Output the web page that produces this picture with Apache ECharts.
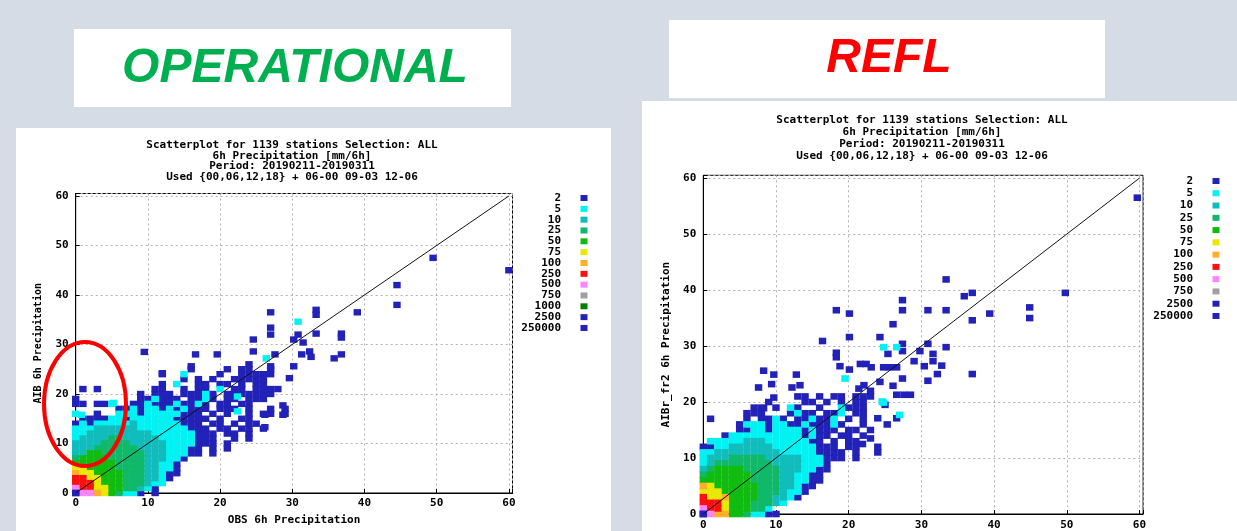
<!DOCTYPE html>
<html><head><meta charset="utf-8">
<script src="https://cdn.jsdelivr.net/npm/echarts@6/dist/echarts.min.js"></script>
<style>html,body{margin:0;padding:0;background:#d6dce5;}#c{width:1237px;height:531px;}</style>
</head><body><div id="c"></div>
<script>
// ---------- texts / labels ----------
const headingLeft = 'OPERATIONAL';
const headingRight = 'REFL';
const titleLines = ['Scatterplot for 1139 stations Selection: ALL','6h Precipitation [mm/6h]','Period: 20190211-20190311','Used {00,06,12,18} + 06-00 09-03 12-06'];
const xNameLeft = 'OBS 6h Precipitation';
const yNameLeft = 'AIB 6h Precipitation';
const yNameRight = 'AIBr_fr2 6h Precipitation';
const axisTicks = [0,10,20,30,40,50,60];
const classLabelsOp = ['2','5','10','25','50','75','100','250','500','750','1000','2500','250000'];
const classLabelsRf = ['2','5','10','25','50','75','100','250','500','750','2500','250000'];
const diagonal = [[0,0],[60,60]];

// ---------- OPERATIONAL data (rows: [y, [x...]]) ----------
const opC2Rows = [[0,[9,11]],[1,[11]],[3,[13]],[4,[13,14]],[5,[14]],[6,[14]],[7,[15]],[8,[16,17,19]],[9,[16,17,19,21]],[10,[17,18,19,21]],[11,[17,18,19,22,24]],[12,[17,18,19,21,22,24]],[13,[16,17,18,20,21,23,24,26]],[14,[0,2,15,16,17,19,20,22,24,25]],[15,[1,2,3,4,7,14,15,16,17,18,20,23,24]],[16,[3,9,15,16,17,19,21,24,26,27,29]],[17,[6,7,9,12,14,16,17,18,20,21,22,24,27,29]],[18,[0,1,3,4,8,9,11,12,13,15,16,18,20,21,23,24]],[19,[0,9,10,12,13,14,16,17,19,21,22,24,25,26]],[20,[9,11,12,13,15,16,17,19,21,22,23,24,25,26,27]],[21,[1,3,11,12,15,17,18,22,23,25,26,27,28]],[22,[12,17,18,20,21,23,25,26]],[23,[15,17,19,22,23,24,25,26]],[24,[12,20,23,24,25,26,27]],[25,[16,21,23,24,27]],[26,[24]]];
const opC2Out = [[60,45],[49.5,47.5],[44.5,42],[44.5,38],[39,36.5],[36.8,32.2],[36.8,31.4],[36.8,28],[35.8,27.2],[33.3,37],[33.3,36],[33.3,32.2],[30.8,32],[30.2,31],[31.5,30.4],[30.2,25.6],[31.3,28],[32.4,28.6],[32.6,27.5],[29.6,23.2],[27,36.5],[27,33.4],[27,32],[24.6,31],[24.6,28.6],[27.6,28],[27,25.6],[19.6,28],[16.6,28],[9.5,28.5],[12,24.2],[16,25.6],[28.7,17.7],[28.7,15.8],[26.2,15.8],[26.2,13.3]];
const opC5Rows = [[0,[7,8]],[1,[10]],[2,[11,12]],[3,[12]],[4,[12]],[5,[12,13]],[6,[12,13]],[7,[13,14]],[8,[13,14,15]],[9,[13,14,15]],[10,[13,14,15,16]],[11,[0,12,13,14,15,16]],[12,[0,1,11,12,13,14,15,16]],[13,[0,1,2,9,10,11,12,13,14,15]],[14,[1,3,4,5,6,7,9,10,11,12,13,14]],[15,[5,6,8,9,10,11,12,13]],[16,[0,6,7,8,10,11,12,13,14]],[17,[8,10,11,13,15]],[18,[5,10,14,17]],[19,[11,18]],[20,[18]],[21,[20]],[22,[14]],[24,[15]]];
const opC5Out = [[30.8,34.6],[26.4,27.2],[0.8,15.8],[5.2,18.2],[22.4,19.5],[22.4,16.5]];
const opC10Rows = [[1,[9]],[2,[10]],[3,[10,11]],[4,[10,11]],[5,[10,11]],[6,[10,11]],[7,[10,11,12]],[8,[0,1,10,11,12]],[9,[0,1,2,9,10,11,12]],[10,[0,1,2,3,8,9,10,11,12]],[11,[1,2,3,4,7,8,9,10,11]],[12,[2,3,4,5,6,7,8,9,10]],[13,[3,4,5,6,7,8]],[14,[8]]];
const opC25Rows = [[0,[6]],[1,[7,8]],[2,[7,8,9]],[3,[7,8,9]],[4,[7,8,9]],[5,[6,7,8,9]],[6,[6,7,8,9]],[7,[0,5,6,7,8,9]],[8,[4,5,6,7,8,9]],[9,[3,4,5,6,7,8]],[10,[4,5,6,7]],[11,[5,6]]];
const opC50Rows = [[0,[5]],[1,[5,6]],[2,[4,5,6]],[3,[4,5,6]],[4,[3,4,5,6]],[5,[2,3,4,5]],[6,[0,1,2,3,4,5]],[7,[1,2,3,4]],[8,[2,3]]];
const opC75Rows = [[0,[4]],[1,[3,4]],[2,[3]],[3,[2,3]],[4,[1,2]],[5,[0,1]]];
const opC100Rows = [[0,[3]],[4,[0]]];
const opC250Rows = [[1,[1,2]],[2,[0,1,2]],[3,[0,1]]];
const opC500Rows = [[0,[1,2]],[1,[0]]];
const opC750Rows = [];
const opC1000Rows = [];
const opC2500 = [[0,0]];
const opC250000 = [[0,0]];

// ---------- REFL data ----------
const rfC2Rows = [[0,[9,10]],[3,[13]],[4,[14]],[5,[14,15]],[6,[15,16]],[7,[15,16]],[8,[16,17]],[9,[17]],[10,[17,18,19,21]],[11,[16,17,18,19,21]],[12,[0,1,16,17,18,20,21]],[13,[15,16,18,20,21]],[14,[3,14,16,17,19,20,22]],[15,[5,6,9,14,16,17,18,20,21,23]],[16,[5,9,12,13,15,16,17,19,22]],[17,[1,6,8,9,11,13,14,16,17,20,22]],[18,[6,7,8,12,14,15,17,18,21,22]],[19,[7,8,10,13,16,20,21,22]],[20,[9,14,15,17,19,21,22]],[21,[13,14,16,18,19,21,22]]];
const rfC2Out = [[59.7,56.5],[49.8,39.5],[44.9,36.9],[44.9,35],[39.4,35.8],[37,39.5],[35.9,38.9],[37,34.6],[37,25],[33.4,41.9],[33.4,36.4],[30.9,36.4],[27.4,38.2],[27.4,36.4],[26.1,33.9],[18.3,36.4],[20.1,35.8],[16.4,30.9],[20.1,31.6],[24.3,31.6],[27.4,30.4],[30.9,30.4],[33.4,29.8],[25.4,28.6],[27.4,29.1],[29.8,29.1],[31.6,28.6],[32.8,26.5],[30.4,26.4],[31.6,27.3],[32.2,25],[30.9,23.8],[29,27.3],[18.3,28.8],[18.3,28],[18.8,26.4],[20.1,25.8],[21.6,26.8],[22.4,26.8],[23.1,26.2],[24.8,26.2],[25.6,26.2],[26.6,26.2],[27.4,24.2],[26.1,22.9],[24.3,23.6],[21.4,22.4],[22.1,23],[23,22],[23,21],[26.6,21.3],[27.6,21.3],[28.5,21.3],[9.7,24.9],[12.8,24.9],[8.3,25.6],[9.4,23.2],[7.6,22.6],[13.3,23],[12.2,22.6],[9.7,20.8],[8.3,18.9],[25.3,16],[24,17.1],[26.6,17.1],[25,19.5],[21.9,12.5],[23,13.5],[24,12],[24,11]];
const rfC5Rows = [[0,[7,8]],[1,[9]],[2,[11]],[3,[12]],[4,[12,13]],[5,[13]],[6,[13,14]],[7,[13,14]],[8,[14,15]],[9,[0,14,15,16]],[10,[0,14,15,16]],[11,[0,1,11,12,13,14,15]],[12,[2,3,10,11,12,13,14,15]],[13,[1,2,3,4,5,9,10,11,12,13,14]],[14,[4,5,6,7,8,9,10,11,12,13,15]],[15,[7,8,10,11,12,13,15]],[16,[6,7,8,10,11,14,18]],[17,[10,15,18]],[18,[13,19]],[19,[12,19]]];
const rfC5Out = [[24.8,29.8],[26.6,29.8],[19.5,24.2],[24.8,19.9],[27,17.7],[24.6,20.1]];
const rfC10Rows = [[2,[10]],[3,[10,11]],[4,[11]],[5,[11,12]],[6,[11,12]],[7,[11,12]],[8,[0,11,12,13]],[9,[1,10,11,12,13]],[10,[1,2,3,9,10,11,12,13]],[11,[2,3,4,5,6,7,8,9,10]],[12,[4,5,6,7,8,9]],[13,[6,7,8]]];
const rfC25Rows = [[0,[6]],[1,[7,8]],[2,[7,8,9]],[3,[8,9]],[4,[8,9,10]],[5,[8,9,10]],[6,[7,8,9,10]],[7,[0,7,8,9,10]],[8,[1,6,7,8,9,10]],[9,[2,3,4,5,6,7,8,9]],[10,[4,5,6,7,8]]];
const rfC50Rows = [[0,[4,5]],[1,[4,5,6]],[2,[4,5,6]],[3,[4,5,6,7]],[4,[3,4,5,6,7]],[5,[2,3,4,5,6,7]],[6,[0,1,2,3,4,5,6]],[7,[1,2,3,4,5,6]],[8,[2,3,4,5]]];
const rfC75Rows = [[1,[3]],[2,[3]],[3,[1,2]],[4,[0,1,2]],[5,[1]]];
const rfC100Rows = [[0,[2,3]],[3,[3]],[5,[0]]];
const rfC250Rows = [[1,[1,2]],[2,[0,1,2]],[3,[0]]];
const rfC500Rows = [[0,[1]],[1,[0]]];
const rfC750Rows = [];
const rfC2500 = [[0,0]];
const rfC250000 = [[0,0]];

// ---------- styling ----------
const classColor = {'2':'#2222b8','5':'#00f2f2','10':'#10bcbc','25':'#10b86a','50':'#10bc10','75':'#e8e800','100':'#ffb028','250':'#ff1010','500':'#ff84ff','750':'#a0a0a0','1000':'#008200','2500':'#2222b8','250000':'#2222b8'};
const MONO = '"DejaVu Sans Mono", "Liberation Mono", monospace';

function cells(rows){const out=[];rows.forEach(r=>r[1].forEach(x=>out.push([x,r[0]])));return out;}

const opData = {'2':cells(opC2Rows).concat(opC2Out),'5':cells(opC5Rows).concat(opC5Out),'10':cells(opC10Rows),'25':cells(opC25Rows),'50':cells(opC50Rows),'75':cells(opC75Rows),'100':cells(opC100Rows),'250':cells(opC250Rows),'500':cells(opC500Rows),'750':cells(opC750Rows),'1000':cells(opC1000Rows),'2500':opC2500,'250000':opC250000};
const rfData = {'2':cells(rfC2Rows).concat(rfC2Out),'5':cells(rfC5Rows).concat(rfC5Out),'10':cells(rfC10Rows),'25':cells(rfC25Rows),'50':cells(rfC50Rows),'75':cells(rfC75Rows),'100':cells(rfC100Rows),'250':cells(rfC250Rows),'500':cells(rfC500Rows),'750':cells(rfC750Rows),'2500':rfC2500,'250000':rfC250000};

function scatterSeries(idx, labels, data, size){
  const s = labels.map(k=>({type:'scatter', name:k, xAxisIndex:idx, yAxisIndex:idx, data:data[k], symbol:'rect', symbolSize:size, clip:false, silent:true, animation:false,
    itemStyle:{color:classColor[k], borderWidth:0, opacity:1}}));
  s.push({type:'line', xAxisIndex:idx, yAxisIndex:idx, data:diagonal, symbol:'none', silent:true, animation:false, z:5, lineStyle:{color:'#111', width:1}});
  return s;
}
function xAxisCfg(idx, name, margin){
  return {type:'value', gridIndex:idx, min:0, max:60.5, interval:10,
    axisLine:{show:true, lineStyle:{color:'#000', width:1}},
    axisTick:{show:true, inside:true, length:4, lineStyle:{color:'#000'}},
    axisLabel:{margin:margin, color:'#000', fontFamily:MONO, fontWeight:'bold', fontSize:11, formatter:v=>(axisTicks.indexOf(v)>=0?String(v):'')},
    splitLine:{show:true, lineStyle:{color:'#b0b0b0', type:[2,3], width:1}},
    name:name, nameLocation:'middle', nameGap:22, nameTextStyle:{color:'#000', fontFamily:MONO, fontWeight:'bold', fontSize:11}};
}
function yAxisCfg(idx, name, gap, fs){
  const a = xAxisCfg(idx, name, 7);
  a.nameGap = gap; a.nameTextStyle = {color:'#000', fontFamily:MONO, fontWeight:'bold', fontSize:fs};
  return a;
}

function legendGraphics(labels, xText, xSq, y0, step){
  const g=[];
  labels.forEach((k,i)=>{
    const y=y0+i*step;
    g.push({type:'text', z:50, style:{text:k, x:xText, y:y, align:'right', verticalAlign:'middle', textAlign:'right', textVerticalAlign:'middle', font:'bold 11px '+MONO, fill:'#000'}});
    g.push({type:'rect', z:50, shape:{x:xSq-3.5, y:y-3, width:7, height:6}, style:{fill:classColor[k]}});
  });
  return g;
}
function titleGraphic(x, top, lh){
  return {type:'text', z:50, style:{text:titleLines.join('\n'), x:x, y:top, align:'center', verticalAlign:'top', textAlign:'center', textVerticalAlign:'top', font:'bold 11px '+MONO, lineHeight:lh, fill:'#000'}};
}

const graphics = [
  {type:'rect', z:-100, shape:{x:16, y:128, width:595, height:403}, style:{fill:'#ffffff'}},
  {type:'rect', z:-100, shape:{x:642, y:101, width:595, height:430}, style:{fill:'#ffffff'}},
  {type:'rect', z:-100, shape:{x:74, y:29, width:437, height:78}, style:{fill:'#ffffff'}},
  {type:'rect', z:-100, shape:{x:669, y:20, width:436, height:78}, style:{fill:'#ffffff'}},
  {type:'text', z:50, style:{text:headingLeft, x:295, y:69, align:'center', verticalAlign:'middle', textAlign:'center', textVerticalAlign:'middle', font:'italic bold 48px "Liberation Sans", Arial, sans-serif', fill:'#00b050'}},
  {type:'text', z:50, style:{text:headingRight, x:889, y:59, align:'center', verticalAlign:'middle', textAlign:'center', textVerticalAlign:'middle', font:'italic bold 48px "Liberation Sans", Arial, sans-serif', fill:'#ff0000'}},
  titleGraphic(292, 139.6, 10.8),
  titleGraphic(922, 113.9, 12.2),
  {type:'ellipse', z:100, shape:{cx:85, cy:404, rx:41, ry:62}, style:{fill:'none', stroke:'#ff0000', lineWidth:4}}
].concat(legendGraphics(classLabelsOp, 561, 584, 198, 10.83))
 .concat(legendGraphics(classLabelsRf, 1193, 1216, 181, 12.27));

const chart = echarts.init(document.getElementById('c'), null, {renderer:'canvas'});
chart.setOption({
  backgroundColor:'#d6dce5',
  animation:false,
  grid:[
    {left:75.7, top:193.5, width:436.8, height:299.8, show:true, borderColor:'#000', borderWidth:1, backgroundColor:'transparent'},
    {left:703.3, top:175.3, width:439.8, height:339.7, show:true, borderColor:'#000', borderWidth:1, backgroundColor:'transparent'}
  ],
  xAxis:[xAxisCfg(0, xNameLeft, 5), xAxisCfg(1, '', 6)],
  yAxis:[yAxisCfg(0, yNameLeft, 32, 10), yAxisCfg(1, yNameRight, 32, 11)],
  series: scatterSeries(0, classLabelsOp, opData, [7.4,6.4]).concat(scatterSeries(1, classLabelsRf, rfData, [7.4,6.6])),
  graphic: graphics
});
</script>
</body></html>
